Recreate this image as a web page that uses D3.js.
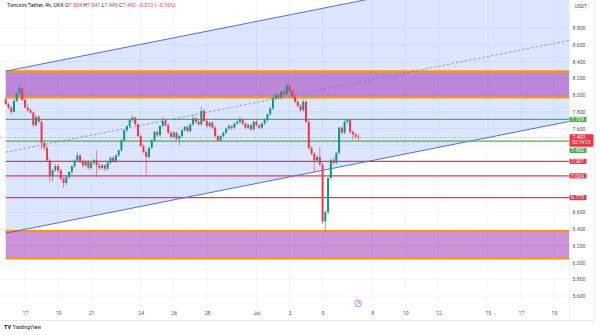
<!DOCTYPE html>
<html><head><meta charset="utf-8">
<script src="https://cdn.jsdelivr.net/npm/d3@7"></script>
<style>body{margin:0;background:#fff;} svg{display:block;font-family:Roboto,"Noto Sans",sans-serif;}</style>
</head><body><svg id="c" width="600" height="335"></svg>
<script>
// ---------- data ----------
const symbolTitle = "Toncoin/Tether, 4h, OKX";
const legendKeys = ["O", "H", "L", "C", ""];
const legendValues = ["7.504", "7.541", "7.445", "7.492", "\u22120.012 (\u22120.16%)"];
const firstCandleTime = new Date(2024, 5, 15, 20);
const candleHours = 4;
// [open, high, low, close]
const candles = [
[7.95,7.97,7.88,7.89],[7.89,7.91,7.83,7.85],[7.85,7.87,7.76,7.80],[7.80,7.95,7.79,7.93],
[7.93,8.03,7.92,8.02],[8.02,8.12,8.01,8.08],[8.08,8.09,7.93,7.94],[7.94,7.96,7.84,7.85],
[7.85,7.90,7.80,7.82],[7.82,7.84,7.77,7.79],[7.79,7.80,7.61,7.64],[7.64,7.76,7.62,7.74],
[7.74,7.76,7.66,7.68],[7.68,7.70,7.35,7.43],[7.43,7.46,7.34,7.37],[7.37,7.39,7.20,7.22],
[7.22,7.24,6.96,7.03],[7.03,7.12,6.97,7.10],[7.10,7.18,7.08,7.15],[7.15,7.17,7.06,7.10],
[7.10,7.12,6.98,7.00],[7.00,7.02,6.89,6.95],[6.95,7.03,6.92,7.02],[7.02,7.09,7.00,7.08],
[7.08,7.16,7.06,7.15],[7.15,7.23,7.13,7.22],[7.22,7.32,7.20,7.28],[7.28,7.29,7.18,7.20],
[7.20,7.23,7.13,7.16],[7.16,7.22,7.14,7.20],[7.20,7.22,7.11,7.13],[7.13,7.20,7.11,7.19],
[7.19,7.24,7.17,7.22],[7.22,7.34,7.02,7.16],[7.16,7.18,7.11,7.13],[7.13,7.18,7.11,7.16],
[7.16,7.17,7.09,7.12],[7.12,7.20,7.10,7.19],[7.19,7.26,7.17,7.25],[7.25,7.27,7.19,7.21],
[7.21,7.29,7.19,7.28],[7.28,7.35,7.26,7.34],[7.34,7.47,7.32,7.46],[7.46,7.59,7.44,7.58],
[7.58,7.64,7.56,7.63],[7.63,7.71,7.61,7.70],[7.70,7.76,7.68,7.73],[7.73,7.74,7.64,7.65],
[7.65,7.66,7.50,7.51],[7.51,7.53,7.38,7.39],[7.39,7.41,7.30,7.32],[7.32,7.34,7.05,7.26],
[7.26,7.38,7.24,7.37],[7.37,7.47,7.35,7.46],[7.46,7.57,7.44,7.56],[7.56,7.58,7.50,7.52],
[7.52,7.64,7.50,7.63],[7.63,7.74,7.61,7.69],[7.69,7.71,7.62,7.64],[7.64,7.66,7.53,7.55],
[7.55,7.57,7.48,7.50],[7.50,7.57,7.48,7.55],[7.55,7.56,7.46,7.48],[7.48,7.53,7.40,7.51],
[7.51,7.59,7.49,7.58],[7.58,7.63,7.56,7.62],[7.62,7.63,7.55,7.57],[7.57,7.66,7.55,7.65],
[7.65,7.76,7.63,7.72],[7.72,7.74,7.66,7.68],[7.68,7.70,7.63,7.65],[7.65,7.86,7.63,7.81],
[7.81,7.83,7.68,7.69],[7.69,7.71,7.61,7.63],[7.63,7.68,7.61,7.67],[7.67,7.69,7.59,7.61],
[7.61,7.63,7.49,7.51],[7.51,7.52,7.44,7.46],[7.46,7.52,7.44,7.51],[7.51,7.56,7.49,7.55],
[7.55,7.61,7.53,7.60],[7.60,7.65,7.58,7.63],[7.63,7.64,7.58,7.61],[7.61,7.67,7.59,7.66],
[7.66,7.70,7.64,7.68],[7.68,7.74,7.66,7.71],[7.71,7.72,7.64,7.66],[7.66,7.67,7.59,7.61],
[7.61,7.66,7.59,7.64],[7.64,7.65,7.57,7.59],[7.59,7.69,7.57,7.68],[7.68,7.70,7.62,7.64],
[7.64,7.65,7.59,7.61],[7.61,7.67,7.59,7.66],[7.66,7.72,7.64,7.70],[7.70,7.78,7.68,7.77],
[7.77,7.86,7.75,7.84],[7.84,7.98,7.82,7.96],[7.96,8.02,7.94,8.00],[8.00,8.02,7.95,7.97],
[7.97,8.05,7.95,8.04],[8.04,8.06,7.99,8.01],[8.01,8.14,7.99,8.11],[8.11,8.13,8.03,8.05],
[8.05,8.07,7.96,7.98],[7.98,8.00,7.90,7.92],[7.92,7.94,7.85,7.87],[7.87,7.89,7.80,7.82],
[7.82,7.95,7.80,7.92],[7.92,7.93,7.66,7.68],[7.68,7.70,7.35,7.37],[7.37,7.39,7.28,7.30],
[7.30,7.32,7.08,7.22],[7.22,7.28,7.20,7.26],[7.26,7.38,7.15,7.17],[7.17,7.19,6.46,6.49],
[6.49,6.62,6.37,6.60],[6.60,7.02,6.58,7.01],[7.01,7.24,6.99,7.22],[7.22,7.26,7.17,7.19],
[7.19,7.32,7.17,7.31],[7.31,7.62,7.29,7.61],[7.61,7.62,7.52,7.55],[7.55,7.70,7.53,7.68],
[7.68,7.71,7.66,7.70],[7.70,7.71,7.54,7.56],[7.56,7.58,7.47,7.53],[7.53,7.55,7.48,7.504],
[7.504,7.541,7.445,7.492]
];
const dateTicks = [new Date(2024,5,17),new Date(2024,5,19),new Date(2024,5,21),new Date(2024,5,24),
  new Date(2024,5,26),new Date(2024,5,28),new Date(2024,6,1),new Date(2024,6,3),new Date(2024,6,5),
  new Date(2024,6,8),new Date(2024,6,10),new Date(2024,6,12),new Date(2024,6,15),new Date(2024,6,17),
  new Date(2024,6,19)];
const dateTickLabels = ["17","19","21","24","26","28","Jul","3","5","8","10","12","15","17","19"];
const priceTicks = [8.8,8.6,8.4,8.2,8.0,7.8,7.6,7.4,7.2,7.0,6.8,6.6,6.4,6.2,6.0,5.8,5.6];
const greenLevels = [7.709, 7.450];
const redLevels = [7.207, 7.034, 6.775];
const zones = [[7.970, 8.282], [6.048, 6.376]];
const channelTime = [new Date(2024,5,15,20), new Date(2024,6,7,4)];
const channelUpper = [8.285, 9.12];
const channelWidth = 1.935;
const lastPrice = 7.492;
const countdown = "02:14:13";
const currencyLabel = "USDT";

// ---------- layout ----------
const svg = d3.select("#c");
const paneR = 569, paneB = 308;
const x = d3.scaleTime().domain([new Date(2024,5,17), new Date(2024,6,19)]).range([25, 554]);
const y = d3.scaleLinear().domain([8.8, 5.6]).range([28, 296]);
const GREEN = "#089981", RED = "#f23645";

svg.append("defs").append("clipPath").attr("id","pane")
  .append("rect").attr("x",0).attr("y",0).attr("width",paneR).attr("height",paneB);

const grid = svg.append("g").attr("stroke","#eef1f7").attr("stroke-width",0.8);
grid.selectAll("line.v").data(dateTicks).join("line")
  .attr("x1",d=>x(d)).attr("x2",d=>x(d)).attr("y1",0).attr("y2",paneB);
grid.selectAll("line.h").data(priceTicks).join("line")
  .attr("x1",0).attr("x2",paneR).attr("y1",d=>y(d)).attr("y2",d=>y(d));

const pane = svg.append("g").attr("clip-path","url(#pane)");

// channel
const x0 = x(channelTime[0]), x1 = x(channelTime[1]);
function chanY(off, px) {
  const ya = y(channelUpper[0] - off), yb = y(channelUpper[1] - off);
  return ya + (yb - ya) * (px - x0) / (x1 - x0);
}
pane.append("path")
  .attr("d", `M${x0},${chanY(0,x0)}L${paneR},${chanY(0,paneR)}L${paneR},${chanY(channelWidth,paneR)}L${x0},${chanY(channelWidth,x0)}Z`)
  .attr("fill","rgba(41,98,255,0.16)");

// zones
zones.forEach(z => {
  pane.append("rect").attr("x",x0).attr("width",paneR-x0)
    .attr("y",y(z[1])).attr("height",y(z[0])-y(z[1]))
    .attr("fill","rgba(156,39,176,0.5)");
  z.forEach(v => pane.append("line").attr("x1",x0).attr("x2",paneR)
    .attr("y1",y(v)).attr("y2",y(v)).attr("stroke","#ff9800").attr("stroke-width",2.2));
});

// channel lines
[0, channelWidth].forEach(off => pane.append("line")
  .attr("x1",x0).attr("y1",chanY(off,x0)).attr("x2",paneR).attr("y2",chanY(off,paneR))
  .attr("stroke","#3b62d9").attr("stroke-width",0.9));
pane.append("line")
  .attr("x1",x0).attr("y1",chanY(channelWidth/2,x0)).attr("x2",paneR).attr("y2",chanY(channelWidth/2,paneR))
  .attr("stroke","#7a86b8").attr("stroke-width",0.8).attr("stroke-dasharray","2.5,2");

// level lines
greenLevels.forEach(v => pane.append("line").attr("x1",x0).attr("x2",paneR)
  .attr("y1",y(v)).attr("y2",y(v)).attr("stroke","#4caf50").attr("stroke-width",1.3));
redLevels.forEach(v => pane.append("line").attr("x1",x0).attr("x2",paneR)
  .attr("y1",y(v)).attr("y2",y(v)).attr("stroke","#e53950").attr("stroke-width",1.3));
pane.append("line").attr("x1",0).attr("x2",paneR).attr("y1",y(lastPrice)).attr("y2",y(lastPrice))
  .attr("stroke",RED).attr("stroke-width",0.6).attr("stroke-dasharray","1,1.5").attr("opacity",0.7);

// candles
const cData = candles.map((c,i)=>({t:d3.timeHour.offset(firstCandleTime, candleHours*i), o:c[0], h:c[1], l:c[2], c:c[3]}));
const bw = 2;
const cg = pane.append("g");
cg.selectAll("line").data(cData).join("line")
  .attr("x1",d=>x(d.t)).attr("x2",d=>x(d.t)).attr("y1",d=>y(d.h)).attr("y2",d=>y(d.l))
  .attr("stroke",d=>d.c>=d.o?GREEN:RED).attr("stroke-width",0.6);
cg.selectAll("rect").data(cData).join("rect")
  .attr("x",d=>x(d.t)-bw/2).attr("width",bw)
  .attr("y",d=>y(Math.max(d.o,d.c))).attr("height",d=>Math.max(0.8, Math.abs(y(d.o)-y(d.c))))
  .attr("fill",d=>d.c>=d.o?GREEN:RED);

// frame lines
svg.append("line").attr("x1",paneR+0.5).attr("x2",paneR+0.5).attr("y1",0).attr("y2",320).attr("stroke","#e8eaf0").attr("stroke-width",0.6);
svg.append("line").attr("x1",0).attr("x2",594).attr("y1",320.5).attr("y2",320.5).attr("stroke","#e0e3eb").attr("stroke-width",0.8);
svg.append("line").attr("x1",594).attr("x2",594).attr("y1",0).attr("y2",320.5).attr("stroke","#e0e3eb").attr("stroke-width",0.8);

// price axis labels (boxes)
const boxes = [];
boxes.push({v:lastPrice, top:y(lastPrice)-3.3, h:12.4, w:24, fill:RED, lines:[d3.format(".3f")(lastPrice), countdown]});
greenLevels.forEach(v=>boxes.push({v, top:y(v)-2.7, h:5.4, w:17, fill:"#4caf50", lines:[d3.format(".3f")(v)]}));
redLevels.forEach(v=>boxes.push({v, top:y(v)-2.7, h:5.4, w:17, fill:"#e53950", lines:[d3.format(".3f")(v)]}));
boxes.sort((a,b)=>a.top-b.top);
for (let i=1;i<boxes.length;i++){
  const p = boxes[i-1];
  if (boxes[i].top < p.top + p.h + 1) boxes[i].top = p.top + p.h + 1;
}
const visibleTicks = priceTicks.filter(t => !boxes.some(b => y(t) > b.top-3 && y(t) < b.top+b.h+3));
const pa = svg.append("g").attr("transform",`translate(572.5,0)`)
  .call(d3.axisRight(y).tickValues(visibleTicks).tickFormat(d3.format(".3f")).tickSize(0).tickPadding(0));
pa.select(".domain").remove();
pa.selectAll("text").attr("font-size",5.2).attr("fill","#50535e").attr("font-family","Roboto,sans-serif");

const bg = svg.append("g");
boxes.forEach(b=>{
  bg.append("rect").attr("x",569.5).attr("y",b.top).attr("width",b.w).attr("height",b.h).attr("rx",0.8).attr("fill",b.fill);
  b.lines.forEach((s,k)=>bg.append("text").attr("x",571+ (b.lines.length>1?1.5:0)).attr("y",b.top+4.4+k*5.6)
    .attr("font-size",k?4.6:5.1).attr("fill","#fff").text(s));
});
// currency label
svg.append("rect").attr("x",571.5).attr("y",2).attr("width",17).attr("height",8.5).attr("rx",1.5)
  .attr("fill","#fff").attr("stroke","#e0e3eb").attr("stroke-width",0.5);
svg.append("text").attr("x",574.5).attr("y",8.2).attr("font-size",5).attr("fill","#50535e").text(currencyLabel);

// time axis
const ta = svg.append("g").attr("transform",`translate(0,311)`)
  .call(d3.axisBottom(x).tickValues(dateTicks).tickFormat((d,i)=>dateTickLabels[i]).tickSize(0).tickPadding(0));
ta.select(".domain").remove();
ta.selectAll("text").attr("font-size",5.2).attr("fill","#50535e").attr("font-family","Roboto,sans-serif");

// legend title
const tt = svg.append("text").attr("x",7).attr("y",7.4).attr("font-size",5.3).attr("fill","#131722");
tt.append("tspan").text(symbolTitle + "  ");
legendKeys.forEach((k,i)=>{
  if (k) tt.append("tspan").attr("fill","#131722").text(k);
  tt.append("tspan").attr("fill",RED).text(legendValues[i] + "  ");
});

// jump-to-realtime icon
const jg = svg.append("g").attr("transform",`translate(358,303.5)`);
jg.append("circle").attr("r",3.3).attr("fill","#fff").attr("stroke","#b34ed0").attr("stroke-width",0.7);
jg.append("path").attr("d","M-1.4,1.4L1.4,-1.4M-0.2,-1.4L1.4,-1.4L1.4,0.2").attr("stroke","#b34ed0").attr("stroke-width",0.6).attr("fill","none");

// branding
svg.append("text").attr("x",4).attr("y",328.5).attr("font-size",5.6).attr("font-weight","bold").attr("fill","#131722").text("TV");
svg.append("text").attr("x",12.5).attr("y",328.5).attr("font-size",5.2).attr("fill","#131722").text("TradingView");
</script></body></html>
